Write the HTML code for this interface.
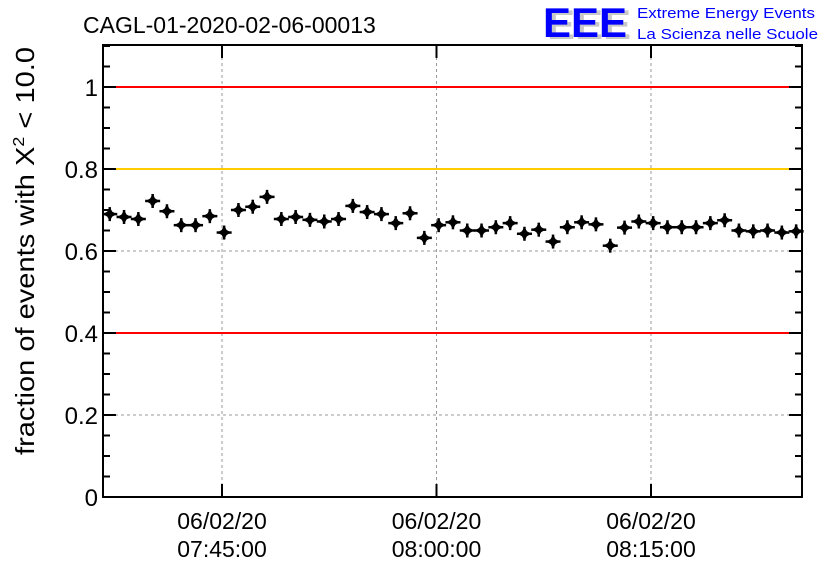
<!DOCTYPE html>
<html><head><meta charset="utf-8"><style>
body{margin:0;background:#fff;}
svg{display:block;font-family:"Liberation Sans",sans-serif;}
</style></head><body>
<svg id="chart" width="836" height="572">
<text x="83" y="33" font-size="23">CAGL-01-2020-02-06-00013</text>
<g>
<text x="547" y="39" font-size="42" font-weight="bold" fill="#c8c8c8" textLength="84" lengthAdjust="spacingAndGlyphs">EEE</text>
<text x="543" y="37" font-size="42" font-weight="bold" fill="#0000ff" textLength="84" lengthAdjust="spacingAndGlyphs">EEE</text>
<text x="637" y="18" font-size="15" fill="#0000ff" textLength="178" lengthAdjust="spacingAndGlyphs">Extreme Energy Events</text>
<text x="637" y="39" font-size="15" fill="#0000ff" textLength="181" lengthAdjust="spacingAndGlyphs">La Scienza nelle Scuole</text>
</g>
<text transform="translate(34,251) rotate(-90)" font-size="26" text-anchor="middle" textLength="408" lengthAdjust="spacingAndGlyphs">fraction of events with Χ<tspan dy="-10" font-size="16">2</tspan><tspan dy="10"> &lt; 10.0</tspan></text>
<g id="grid"></g><g id="refs"></g><g id="axes"></g><g id="points"></g>
</svg>
<script>
const values=[0.690,0.683,0.678,0.722,0.697,0.663,0.663,0.685,0.645,0.700,0.708,0.732,0.678,0.683,0.676,0.672,0.678,0.710,0.695,0.690,0.668,0.692,0.632,0.663,0.670,0.650,0.650,0.658,0.668,0.642,0.652,0.623,0.658,0.670,0.665,0.613,0.657,0.672,0.668,0.658,0.658,0.658,0.668,0.675,0.650,0.648,0.650,0.645,0.648];
const startMinute=-7.85; // minutes relative to 07:45 for first point
const yTicks=[0,0.2,0.4,0.6,0.8,1];
const yTickLabels=["0","0.2","0.4","0.6","0.8","1"];
const xTickMinutes=[0,15,30];
const xTickLabels=["07:45:00","08:00:00","08:15:00"];
const refLines=[1,0.8,0.4];
const refColors=["#ff0000","#ffcc00","#ff0000"];
const L=103,R=802,T=45,B=497;
const x=m=>222+m*(214.5/15);
const y=v=>B-v*410;
const NS="http://www.w3.org/2000/svg";
function mk(parent,tag,attrs){const e=document.createElementNS(NS,tag);for(const k in attrs)e.setAttribute(k,attrs[k]);document.getElementById(parent).appendChild(e);return e;}
yTicks.forEach(v=>{if(v>0&&v<1){const g=mk('grid','line',{x1:L,x2:R,y1:y(v),y2:y(v),stroke:'#999','stroke-dasharray':'3,3'});

}});
xTickMinutes.forEach(m=>{const g=mk('grid','line',{x1:x(m),x2:x(m),y1:T,y2:B,stroke:'#999','stroke-dasharray':'3,3'});

});
refLines.forEach((v,i)=>{const l=mk('refs','line',{x1:L,x2:R,y1:y(v),y2:y(v),stroke:refColors[i],'stroke-width':2});

});
const f=mk('axes','rect',{x:L,y:T,width:R-L,height:B-T,fill:'none',stroke:'#000','stroke-width':2});


for(let v=0;v<=1.1001;v+=0.05){const major=Math.abs(v*5-Math.round(v*5))<1e-6;const len=major?13:7;
const yy=y(v);
const t1=mk('axes','line',{x1:L,x2:L+len,y1:yy,y2:yy,stroke:'#000','stroke-width':2});


const t2=mk('axes','line',{x1:R-len,x2:R,y1:yy,y2:yy,stroke:'#000','stroke-width':2});

}
yTicks.forEach((v,i)=>{const t=mk('axes','text',{x:L-5,y:y(v)+9,'font-size':24,'text-anchor':'end'});t.textContent=yTickLabels[i];

});
xTickMinutes.forEach((m,i)=>{const xx=x(m);
const t1=mk('axes','line',{x1:xx,x2:xx,y1:B,y2:B-13,stroke:'#000','stroke-width':2});


const t2=mk('axes','line',{x1:xx,x2:xx,y1:T,y2:T+13,stroke:'#000','stroke-width':2});


const a=mk('axes','text',{x:xx,y:529,'font-size':23,'text-anchor':'middle'});a.textContent='06/02/20';


const b=mk('axes','text',{x:xx,y:557,'font-size':23,'text-anchor':'middle'});b.textContent=xTickLabels[i];

});
values.forEach((v,i)=>{const cx=x(startMinute+i),cy=y(v);
const g=mk('points','g',{});


const mkc=(t,a)=>{const e=document.createElementNS(NS,t);for(const k in a)e.setAttribute(k,a[k]);g.appendChild(e);};
mkc('line',{x1:cx-7.5,x2:cx+7.5,y1:cy,y2:cy,stroke:'#000','stroke-width':2.5});
mkc('line',{x1:cx,x2:cx,y1:cy-7,y2:cy+7,stroke:'#000','stroke-width':2.5});
mkc('path',{d:`M${cx} ${cy-7}L${cx+2.5} ${cy-2.5}L${cx+7} ${cy}L${cx+2.5} ${cy+2.5}L${cx} ${cy+7}L${cx-2.5} ${cy+2.5}L${cx-7} ${cy}L${cx-2.5} ${cy-2.5}Z`,fill:'#000'});
});
</script>
</body></html>
